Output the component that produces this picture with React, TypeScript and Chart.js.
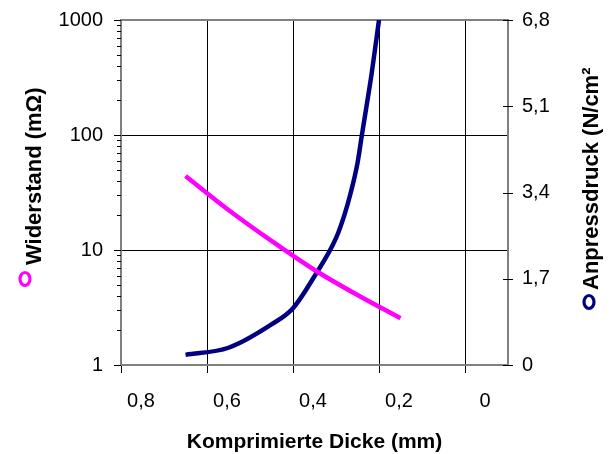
import { useEffect, useRef } from 'react';
import { Chart, registerables } from 'chart.js';

Chart.register(...registerables);

// Data
const widerstandDicke = [0.65, 0.55, 0.45, 0.35, 0.25, 0.15];
const widerstandWerte = [44, 22.3, 12, 6.7, 4.06, 2.55];
const druckDicke = [0.65, 0.55, 0.45, 0.4, 0.35, 0.3, 0.28, 0.265, 0.25, 0.24, 0.23, 0.217, 0.2];
const druckWerte = [0.2, 0.34, 0.8, 1.12, 1.75, 2.5, 2.97, 3.42, 3.98, 4.52, 5.05, 5.75, 6.8];

// Ticks
const xTicks = [0.8, 0.6, 0.4, 0.2, 0];
const leftMajorTicks = [1, 10, 100, 1000];
const leftMinorTicks = [2, 3, 4, 5, 6, 7, 8, 9, 20, 30, 40, 50, 60, 70, 80, 90, 200, 300, 400, 500, 600, 700, 800, 900];
const rightTicks = [0, 1.7, 3.4, 5.1, 6.8];

// Texts
const xTitle = 'Komprimierte Dicke (mm)';
const leftTitle = 'Widerstand (mΩ)';
const rightTitle = 'Anpressdruck (N/cm²)';

const FONT = '"Liberation Sans", Arial, Helvetica, sans-serif';
const PINK = '#FF00FF';
const NAVY = '#000080';
const FRAME = '#808080';

const fmt = (v: number) => (v === 0 ? '0' : v.toFixed(1).replace('.', ','));

const zeroPad = (s: any) => {
  s.paddingTop = 0;
  s.paddingBottom = 0;
  s.paddingLeft = 0;
  s.paddingRight = 0;
};

const decorPlugin = {
  id: 'decor',
  beforeDatasetsDraw(chart: any) {
    const ctx = chart.ctx;
    const { left, right, top } = chart.chartArea;
    const yS = chart.scales.y;
    const y2S = chart.scales.y2;
    ctx.save();
    // top frame line
    ctx.strokeStyle = FRAME;
    ctx.lineWidth = 2;
    ctx.beginPath();
    ctx.moveTo(left - 1, top);
    ctx.lineTo(right + 1, top);
    ctx.stroke();
    // left axis tick marks
    ctx.strokeStyle = '#000';
    ctx.lineWidth = 1;
    ctx.beginPath();
    leftMajorTicks.forEach((v) => {
      const y = Math.round(yS.getPixelForValue(v)) + 0.5;
      ctx.moveTo(left - 7, y);
      ctx.lineTo(left, y);
    });
    leftMinorTicks.forEach((v) => {
      const y = Math.round(yS.getPixelForValue(v)) + 0.5;
      ctx.moveTo(left - 4, y);
      ctx.lineTo(left, y);
    });
    // right axis tick marks (crossing)
    rightTicks.forEach((v) => {
      const y = Math.round(y2S.getPixelForValue(v)) + 0.5;
      ctx.moveTo(right - 5, y);
      ctx.lineTo(right + 5, y);
    });
    ctx.stroke();
    ctx.restore();
  },
  afterDraw(chart: any) {
    const ctx = chart.ctx;
    const { left, right } = chart.chartArea;
    ctx.save();
    ctx.fillStyle = '#000';
    ctx.textBaseline = 'alphabetic';
    // x title
    ctx.font = `bold 21px ${FONT}`;
    ctx.textAlign = 'center';
    ctx.fillText(xTitle, (left + right) / 2, 448);
    // left title
    ctx.font = `bold 22px ${FONT}`;
    ctx.textAlign = 'left';
    ctx.save();
    ctx.translate(41, 265);
    ctx.rotate(-Math.PI / 2);
    ctx.fillText(leftTitle, 0, 0);
    ctx.restore();
    // left marker
    ctx.beginPath();
    ctx.ellipse(25, 279, 5, 6.5, 0, 0, Math.PI * 2);
    ctx.strokeStyle = PINK;
    ctx.lineWidth = 3.2;
    ctx.stroke();
    // right title (clipped at top like reference)
    ctx.save();
    ctx.beginPath();
    ctx.rect(0, 68, 613, 400);
    ctx.clip();
    ctx.translate(598, 290);
    ctx.rotate(-Math.PI / 2);
    ctx.fillText(rightTitle, 0, 0);
    ctx.restore();
    // right marker
    ctx.beginPath();
    ctx.ellipse(589, 302, 5, 6.5, 0, 0, Math.PI * 2);
    ctx.strokeStyle = NAVY;
    ctx.lineWidth = 3.2;
    ctx.stroke();
    ctx.restore();
  },
};

export default function App() {
  const canvasRef = useRef<HTMLCanvasElement | null>(null);

  useEffect(() => {
    if (!canvasRef.current) return;
    const tickFont = { size: 20, family: FONT };
    const chart = new Chart(canvasRef.current, {
      type: 'line',
      data: {
        datasets: [
          {
            label: leftTitle,
            data: widerstandDicke.map((x, i) => ({ x, y: widerstandWerte[i] })),
            yAxisID: 'y',
            borderColor: PINK,
            backgroundColor: PINK,
            borderWidth: 4.5,
            pointRadius: 0,
            cubicInterpolationMode: 'monotone',
            fill: false,
          },
          {
            label: rightTitle,
            data: druckDicke.map((x, i) => ({ x, y: druckWerte[i] })),
            yAxisID: 'y2',
            borderColor: NAVY,
            backgroundColor: NAVY,
            borderWidth: 4.5,
            pointRadius: 0,
            cubicInterpolationMode: 'monotone',
            fill: false,
          },
        ],
      },
      options: {
        animation: false,
        responsive: false,
        devicePixelRatio: 1,
        layout: { padding: { top: 20, left: 0, right: 0, bottom: 0 } },
        plugins: {
          legend: { display: false },
          tooltip: { enabled: false },
          title: { display: false },
        },
        scales: {
          x: {
            type: 'linear',
            position: 'bottom',
            reverse: true,
            min: -0.1,
            max: 0.8,
            afterBuildTicks: (axis: any) => {
              axis.ticks = xTicks.map((v) => ({ value: v }));
            },
            afterFit: (s: any) => {
              s.height = 89;
              zeroPad(s);
            },
            ticks: {
              callback: (v: any) => fmt(Number(v)),
              font: tickFont,
              color: '#000',
              padding: 16,
              labelOffset: 20,
              maxRotation: 0,
              autoSkip: false,
            },
            grid: {
              color: (c: any) => (c.tick && c.tick.value === 0.8 ? 'rgba(0,0,0,0)' : '#000'),
              lineWidth: 1,
              drawTicks: true,
              tickLength: 8,
              tickColor: '#000',
            },
            border: { color: FRAME, width: 2 },
          },
          y: {
            type: 'logarithmic',
            position: 'left',
            min: 1,
            max: 1000,
            afterBuildTicks: (axis: any) => {
              axis.ticks = [...leftMajorTicks, ...leftMinorTicks]
                .sort((a, b) => a - b)
                .map((v) => ({ value: v, major: leftMajorTicks.includes(v) }));
            },
            afterFit: (s: any) => {
              s.width = 121;
              zeroPad(s);
            },
            ticks: {
              callback: (v: any) => (leftMajorTicks.includes(Number(v)) ? String(v) : ''),
              font: tickFont,
              color: '#000',
              padding: 18,
              autoSkip: false,
            },
            grid: {
              color: (c: any) =>
                c.tick && (c.tick.value === 10 || c.tick.value === 100) ? '#000' : 'rgba(0,0,0,0)',
              lineWidth: 1,
              drawTicks: false,
            },
            border: { color: FRAME, width: 2 },
          },
          y2: {
            type: 'linear',
            position: 'right',
            min: 0,
            max: 6.8,
            afterBuildTicks: (axis: any) => {
              axis.ticks = rightTicks.map((v) => ({ value: v }));
            },
            afterFit: (s: any) => {
              s.width = 105;
              zeroPad(s);
            },
            ticks: {
              callback: (v: any) => fmt(Number(v)),
              font: tickFont,
              color: '#000',
              padding: 14,
              autoSkip: false,
            },
            grid: { drawOnChartArea: false, drawTicks: false },
            border: { color: FRAME, width: 2 },
          },
        },
      } as any,
      plugins: [decorPlugin],
    });
    return () => chart.destroy();
  }, []);

  return (
    <div style={{ position: 'absolute', left: 0, top: 0, width: 613, height: 454, background: '#fff' }}>
      <canvas ref={canvasRef} width={613} height={454} style={{ display: 'block', width: 613, height: 454 }} />
    </div>
  );
}
